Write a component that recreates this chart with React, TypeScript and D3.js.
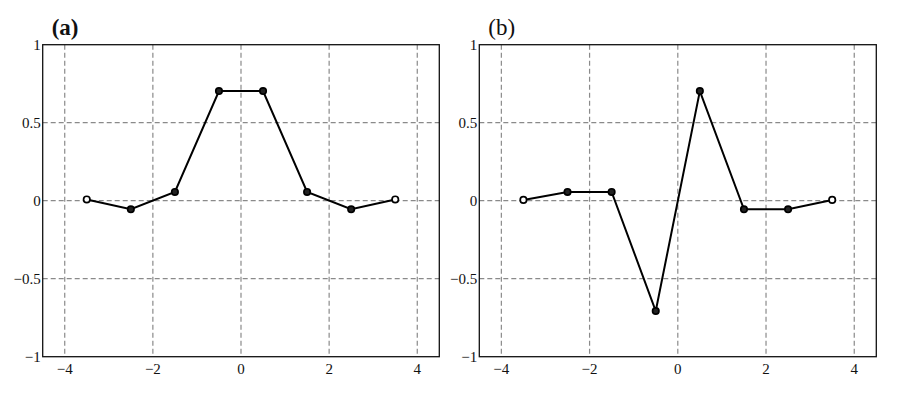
import * as React from 'react'
import * as d3 from 'd3'

const xPositions = [-3.5, -2.5, -1.5, -0.5, 0.5, 1.5, 2.5, 3.5]
const valuesA = [0.008, -0.055, 0.056, 0.703, 0.703, 0.056, -0.055, 0.008]
const valuesB = [0.005, 0.056, 0.056, -0.707, 0.703, -0.055, -0.055, 0.005]
const xTicks = [-4, -2, 0, 2, 4]
const yTicks = [-1, -0.5, 0, 0.5, 1]
const panelLabels = ['(a)', '(b)']

const WIDTH = 901
const HEIGHT = 393
const fmt = (d: number) => String(d).replace('-', '\u2212')

function drawPanel(svg: any, left: number, right: number, values: number[], label: string, bold: boolean) {
  const top = 44.7
  const bottom = 356.7
  const x = d3.scaleLinear().domain([-4.5, 4.5]).range([left, right])
  const y = d3.scaleLinear().domain([-1, 1]).range([bottom, top])
  const g = svg.append('g')

  // dashed grid
  g.selectAll('line.gx')
    .data(xTicks)
    .enter()
    .append('line')
    .attr('x1', (d: number) => x(d))
    .attr('x2', (d: number) => x(d))
    .attr('y1', top)
    .attr('y2', bottom)
    .attr('stroke', '#8a8a8a')
    .attr('stroke-width', 1.2)
    .attr('stroke-dasharray', '5,3')

  g.selectAll('line.gy')
    .data(yTicks.filter((d) => d !== -1 && d !== 1))
    .enter()
    .append('line')
    .attr('x1', left)
    .attr('x2', right)
    .attr('y1', (d: number) => y(d))
    .attr('y2', (d: number) => y(d))
    .attr('stroke', '#8a8a8a')
    .attr('stroke-width', 1.2)
    .attr('stroke-dasharray', '5,3')

  // frame
  g.append('rect')
    .attr('x', left)
    .attr('y', top)
    .attr('width', right - left)
    .attr('height', bottom - top)
    .attr('fill', 'none')
    .attr('stroke', '#111')
    .attr('stroke-width', 1.3)

  // tick labels
  g.selectAll('text.tx')
    .data(xTicks)
    .enter()
    .append('text')
    .attr('x', (d: number) => x(d))
    .attr('y', 374)
    .attr('text-anchor', 'middle')
    .attr('font-family', "'Liberation Serif', serif")
    .attr('font-size', 15)
    .attr('fill', '#111')
    .text((d: number) => fmt(d))

  g.selectAll('text.ty')
    .data(yTicks)
    .enter()
    .append('text')
    .attr('x', left - 2)
    .attr('y', (d: number) => y(d) + 5)
    .attr('text-anchor', 'end')
    .attr('font-family', "'Liberation Serif', serif")
    .attr('font-size', 15)
    .attr('fill', '#111')
    .text((d: number) => fmt(d))

  // data line
  const line = d3
    .line<number>()
    .x((d, i) => x(xPositions[i]))
    .y((d) => y(d))
  g.append('path')
    .datum(values)
    .attr('d', line)
    .attr('fill', 'none')
    .attr('stroke', '#000')
    .attr('stroke-width', 2)

  g.selectAll('circle')
    .data(values)
    .enter()
    .append('circle')
    .attr('cx', (d: number, i: number) => x(xPositions[i]))
    .attr('cy', (d: number) => y(d))
    .attr('r', 3.2)
    .attr('fill', (d: number) => (Math.abs(d) < 0.02 ? '#fff' : '#222'))
    .attr('stroke', '#000')
    .attr('stroke-width', 1.7)

  g.append('text')
    .attr('x', left + 9)
    .attr('y', 35)
    .attr('font-family', "'Liberation Serif', serif")
    .attr('font-size', 23)
    .attr('font-weight', bold ? 'bold' : 'normal')
    .attr('fill', '#111')
    .text(label)
}

export default function App() {
  const ref = React.useRef<SVGSVGElement>(null)

  React.useEffect(() => {
    document.body.style.margin = '0'
    const svg = d3.select(ref.current)
    svg.selectAll('*').remove()
    drawPanel(svg, 42.7, 439.3, valuesA, panelLabels[0], true)
    drawPanel(svg, 479.3, 876.3, valuesB, panelLabels[1], false)
  }, [])

  return <svg ref={ref} width={WIDTH} height={HEIGHT} style={{ display: 'block', background: '#fff' }} />
}
